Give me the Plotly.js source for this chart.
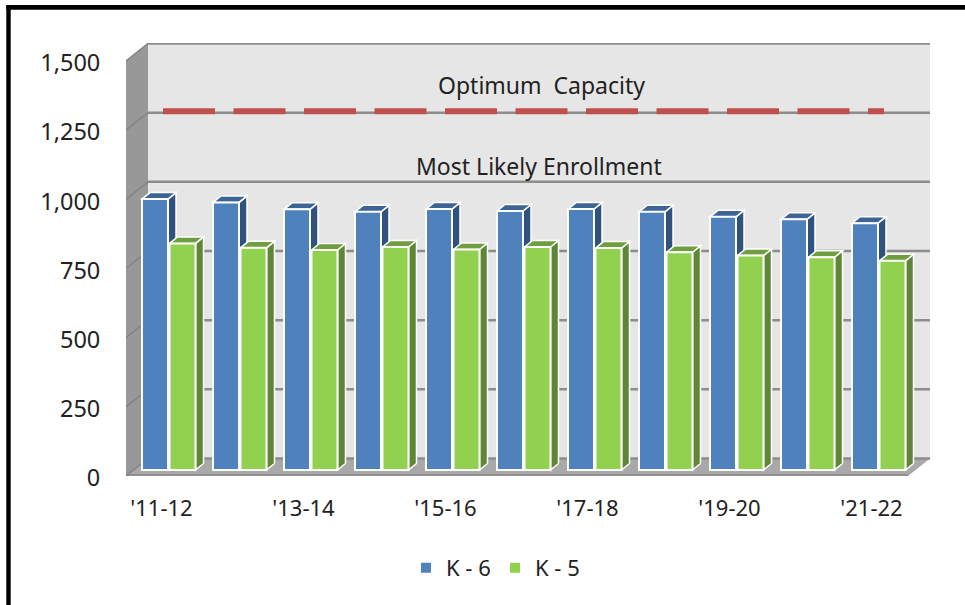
<!DOCTYPE html>
<html><head><meta charset="utf-8">
<script src="https://cdn.plot.ly/plotly-3.0.1.min.js"></script>
<style>html,body{margin:0;padding:0;background:#fff;overflow:hidden}#c{width:965px;height:605px}</style>
</head><body><div id="c"></div>
<script>
const categories = ["'11-12","'12-13","'13-14","'14-15","'15-16","'16-17","'17-18","'18-19","'19-20","'20-21","'21-22"];
const k6 = [979,967,942,933,943,936,943,933,915,906,892];
const k5 = [819,803,795,806,797,806,802,787,775,769,756];
const optimumCapacity = [1250,1250,1250,1250,1250,1250,1250,1250,1250,1250,1250];
const yTicks = [0,250,500,750,1000,1250,1500];
const xTickLabels = ["'11-12","'13-14","'15-16","'17-18","'19-20","'21-22"];

// plot frame in pixels
const L=126,R=930,T=43,B=476,W=965,H=605;
const catPx=71, uPx=0.2767;
const xMax=(R-L)/catPx, yMax=(B-T)/uPx;
const px=v=>v/catPx, py=v=>v/uPx;
const wallDx=px(22), wallDy=py(17.5);     // back wall offset
const barBase=py(6);                      // bars stand slightly inside the floor
const sideDx=px(8), sideDy=py(6.5);       // depth of a bar
const barW=px(26);
const k6Pos=categories.map((c,i)=>i+px(29));
const k5Pos=categories.map((c,i)=>i+px(56.5));
const shapes=[];
const poly=(pts,fill,lc,lw)=>shapes.push({type:'path',xref:'x',yref:'y',layer:'below',
  path:'M'+pts.map(p=>p[0]+','+p[1]).join('L')+'Z',fillcolor:fill,line:{color:lc||fill,width:lw===undefined?0:lw}});
const xEnd=xMax-wallDx;
// walls and floor
poly([[wallDx,wallDy],[xMax,wallDy],[xMax,1500+wallDy],[wallDx,1500+wallDy]],'#e6e6e6');
poly([[0,0],[wallDx,wallDy],[wallDx,1500+wallDy],[0,1500]],'#989898');
poly([[0,0],[wallDx,wallDy],[xMax,wallDy],[xEnd,0]],'#a9a9a9');
poly([[0,0],[xEnd,0],[xEnd,py(2)],[0,py(2)]],'#8f8f8f');
// gridlines
yTicks.forEach(t=>{
  shapes.push({type:'line',xref:'x',yref:'y',layer:'below',x0:wallDx,x1:xMax,y0:t+wallDy,y1:t+wallDy,line:{color:'#8c8c8c',width:2.5}});
  shapes.push({type:'line',xref:'x',yref:'y',layer:'below',x0:0,x1:wallDx,y0:t,y1:t+wallDy,line:{color:'#848484',width:1.5}});
});
// bar depth faces
function depth(pos,vals,sideC,topC){
  pos.forEach((c,i)=>{
    const l=c-barW/2,r=c+barW/2,top=vals[i]+barBase;
    poly([[r,barBase],[r+sideDx,barBase+sideDy],[r+sideDx,top+sideDy],[r,top]],sideC,'#ffffff',1.5);
    poly([[l,top],[l+sideDx,top+sideDy],[r+sideDx,top+sideDy],[r,top]],topC,'#ffffff',1.5);
  });
}
depth(k6Pos,k6,'#31527c','#3c6595');
depth(k5Pos,k5,'#5f8636','#6f9e3e');
// picture frame (left and top edges)
const fx=v=>(v-L)/(R-L), fy=v=>(B-v)/(B-T);
shapes.push({type:'rect',xref:'paper',yref:'paper',layer:'below',x0:fx(6.3),x1:fx(10.7),y0:fy(5),y1:fy(H),fillcolor:'#000',line:{width:0}});
shapes.push({type:'rect',xref:'paper',yref:'paper',layer:'below',x0:fx(6.3),x1:fx(W),y0:fy(5),y1:fy(9.7),fillcolor:'#000',line:{width:0}});

const font='"Noto Sans", sans-serif';
const lineX=categories.map((c,i)=>px(37)+i*px(72.1));
const traces=[
 {type:'bar',name:'K - 6',x:k6Pos,y:k6,base:barBase,width:barW,marker:{color:'#4f81bd',line:{color:'#ffffff',width:2}},hoverinfo:'y'},
 {type:'bar',name:'K - 5',x:k5Pos,y:k5,base:barBase,width:barW,marker:{color:'#92d050',line:{color:'#ffffff',width:2}},hoverinfo:'y'},
 {type:'scatter',mode:'lines',name:'Optimum Capacity',showlegend:false,x:lineX,y:optimumCapacity.map(v=>v+wallDy+py(1.5)),
  line:{color:'#c0504d',width:6,dash:'52px,18.5px'},hoverinfo:'skip'}
];
const layout={
 width:W,height:H,margin:{l:L,r:W-R,t:T,b:H-B,pad:0},
 paper_bgcolor:'#fff',plot_bgcolor:'rgba(0,0,0,0)',barmode:'overlay',
 font:{family:font,color:'#222',size:22},
 xaxis:{type:'linear',range:[0,xMax],tickmode:'array',tickvals:xTickLabels.map((c,i)=>i*2+0.5),ticktext:xTickLabels,
   showgrid:false,zeroline:false,showline:false,ticks:'outside',ticklen:13,tickcolor:'rgba(0,0,0,0)',tickfont:{family:font,size:22,color:'#222'}},
 yaxis:{range:[0,yMax],tickmode:'array',tickvals:yTicks,tickformat:',d',showgrid:false,zeroline:false,showline:false,
   ticks:'outside',ticklen:20,tickcolor:'rgba(0,0,0,0)',ticklabelshift:2,tickfont:{family:font,size:23.5,color:'#222'}},
 legend:{orientation:'h',x:fx(406),y:fy(547),xanchor:'left',yanchor:'top',font:{family:font,size:22,color:'#222'},itemclick:false,bgcolor:'rgba(0,0,0,0)',traceorder:'normal',entrywidth:44,entrywidthmode:'pixels'},
 shapes:shapes,
 annotations:[
  {text:'Optimum  Capacity',xref:'paper',yref:'paper',x:fx(541),y:fy(85),showarrow:false,xanchor:'center',yanchor:'middle',font:{family:font,size:23,color:'#222'}},
  {text:'Most Likely Enrollment',xref:'paper',yref:'paper',x:fx(539),y:fy(166),showarrow:false,xanchor:'center',yanchor:'middle',font:{family:font,size:23,color:'#222'}}
 ]
};
Plotly.newPlot('c',traces,layout,{displayModeBar:false,staticPlot:true});
</script></body></html>
